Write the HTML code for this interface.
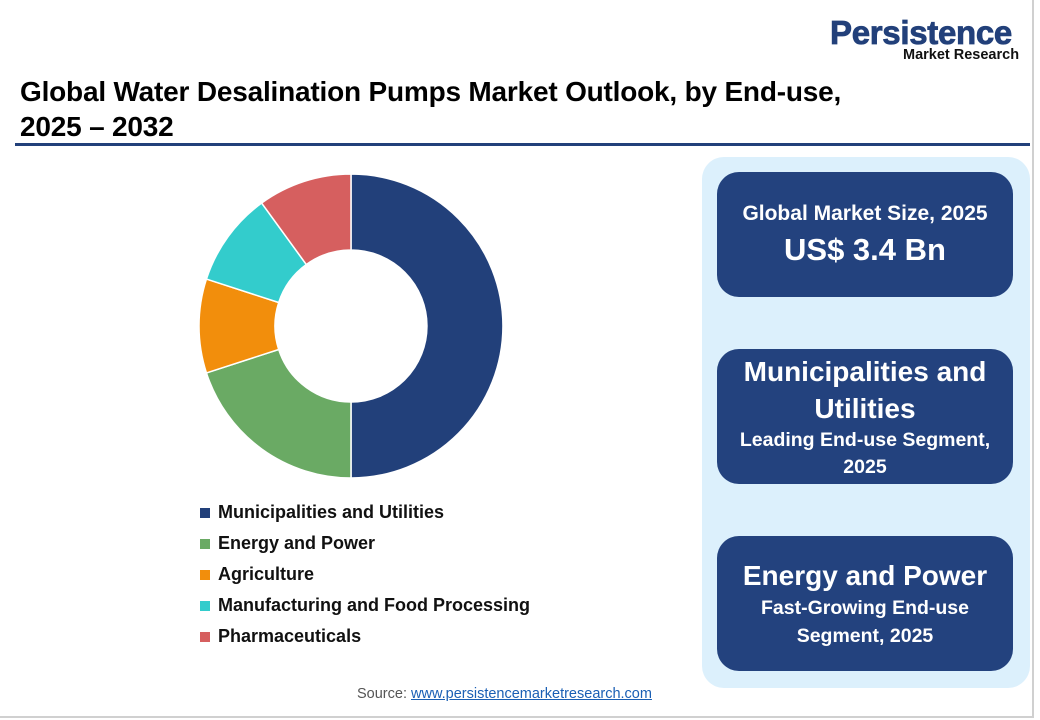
<!DOCTYPE html>
<html><head><meta charset="utf-8"><style>
body{margin:0;width:1040px;height:720px;background:#fff;font-family:"Liberation Sans",sans-serif;position:relative;overflow:hidden}
.frame{position:absolute;left:0;top:0;width:1032px;height:716px;border:2px solid #d0d0d0;border-top:none;border-left:none}
.title{position:absolute;left:20px;top:74px;font-size:28px;font-weight:bold;color:#000;line-height:35px;letter-spacing:-0.2px}
.rule{position:absolute;left:15px;top:143px;width:1015px;height:3px;background:#22407a}
.logo1{position:absolute;left:830px;top:14px;font-size:33px;font-weight:bold;color:#22407a;letter-spacing:-0.3px;-webkit-text-stroke:0.8px #22407a}
.logo2{position:absolute;left:903px;top:47px;font-size:14.5px;font-weight:bold;color:#111}
.panel{position:absolute;left:702px;top:157px;width:328px;height:531px;background:#dcf0fc;border-radius:22px}
.card{position:absolute;left:717px;width:296px;background:#23427e;border-radius:22px;color:#fff;text-align:center;font-weight:bold;display:flex;flex-direction:column;justify-content:center}
.legend{position:absolute;left:200px;top:497px;font-size:18px;font-weight:bold;color:#111}
.legend div{height:31px;display:flex;align-items:center}
.legend span{display:inline-block;width:10px;height:10px;margin-right:8px}
.src{position:absolute;left:357px;top:686px;font-size:14.5px;color:#555}
.src a{color:#1a5fb4;text-decoration:underline}
</style></head><body>
<div class="frame"></div>
<div class="logo1">Persistence</div>
<div class="logo2">Market Research</div>
<div class="title">Global Water Desalination Pumps Market Outlook, by End-use,<br>2025 – 2032</div>
<div class="rule"></div>
<svg id="donut" width="1040" height="720" style="position:absolute;left:0;top:0"></svg>
<div class="legend">
<div><span style="background:#22407a"></span>Municipalities and Utilities</div>
<div><span style="background:#6aaa64"></span>Energy and Power</div>
<div><span style="background:#f28e0c"></span>Agriculture</div>
<div><span style="background:#33cccc"></span>Manufacturing and Food Processing</div>
<div><span style="background:#d65f5f"></span>Pharmaceuticals</div>
</div>
<div class="panel"></div>
<div class="card" style="top:172px;height:125px"><div style="font-size:21px">Global Market Size, 2025</div><div style="font-size:31px;margin-top:6px">US$ 3.4 Bn</div></div>
<div class="card" style="top:349px;height:135px"><div style="font-size:28px;line-height:37px">Municipalities and<br>Utilities</div><div style="font-size:19.5px;line-height:27px">Leading End-use Segment,<br>2025</div></div>
<div class="card" style="top:536px;height:135px"><div style="font-size:28px;line-height:37px">Energy and Power</div><div style="font-size:19.5px;line-height:28px">Fast-Growing End-use<br>Segment, 2025</div></div>
<div class="src">Source: <a>www.persistencemarketresearch.com</a></div>
<script>
const categories=["Municipalities and Utilities","Energy and Power","Agriculture","Manufacturing and Food Processing","Pharmaceuticals"];
const values=[50,20,10,10,10];
const colors=["#22407a","#6aaa64","#f28e0c","#33cccc","#d65f5f"];
const svg=document.getElementById('donut');
const cx=351,cy=326,R=152,r=76;
const total=values.reduce((a,b)=>a+b,0);
function pt(a,rad){return [cx+rad*Math.sin(a),cy-rad*Math.cos(a)];}
let a0=0;
values.forEach((v,i)=>{
 const a1=a0+v/total*2*Math.PI;
 const large=(a1-a0)>Math.PI?1:0;
 const [x0,y0]=pt(a0,R),[x1,y1]=pt(a1,R),[x2,y2]=pt(a1,r),[x3,y3]=pt(a0,r);
 const p=document.createElementNS('http://www.w3.org/2000/svg','path');
 p.setAttribute('d',`M${x0},${y0}A${R},${R} 0 ${large} 1 ${x1},${y1}L${x2},${y2}A${r},${r} 0 ${large} 0 ${x3},${y3}Z`);
 p.setAttribute('fill',colors[i]);
 p.setAttribute('stroke','#fff');
 p.setAttribute('stroke-width','1.5');
 
 
 svg.appendChild(p);
 a0=a1;
});
</script>
</body></html>
